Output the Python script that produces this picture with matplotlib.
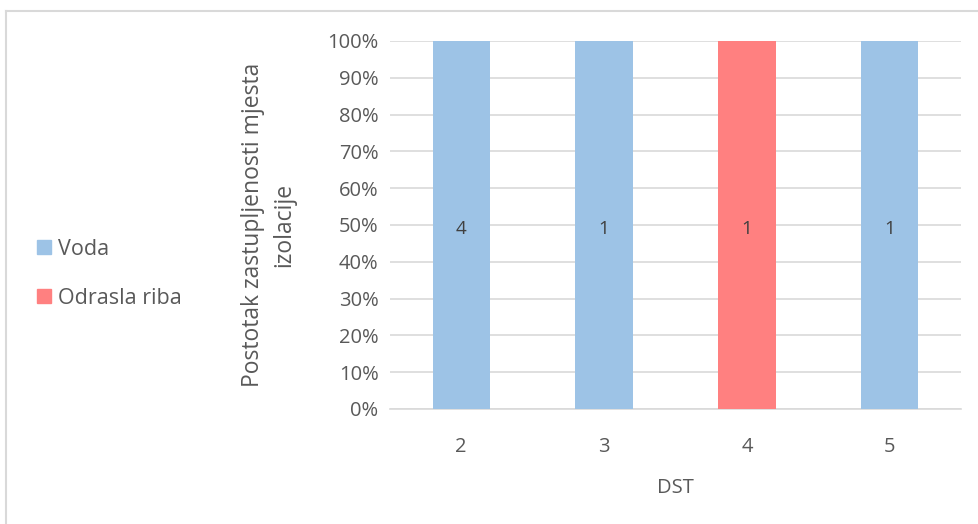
import matplotlib.pyplot as plt
import numpy as np
from matplotlib.lines import Line2D
from matplotlib.patches import Patch

# Data: counts per DST category
categories = ["2", "3", "4", "5"]
voda = [4, 1, 0, 1]
odrasla_riba = [0, 0, 1, 0]
series_names = ["Voda", "Odrasla riba"]

color_voda = "#9dc3e6"
color_riba = "#ff8080"
text_color = "#595959"

plt.rcParams['font.family'] = ['Open Sans', 'DejaVu Sans']

fig = plt.figure(figsize=(9.79, 5.24), dpi=100)
ax = fig.add_axes([0.398, 0.2195, 0.584, 0.7023])

voda_arr = np.array(voda, dtype=float)
riba_arr = np.array(odrasla_riba, dtype=float)
totals = voda_arr + riba_arr
voda_pct = voda_arr / totals
riba_pct = riba_arr / totals

x = np.arange(len(categories))
width = 0.4

bars1 = ax.bar(x, voda_pct, width, color=color_voda, zorder=3)
bars2 = ax.bar(x, riba_pct, width, bottom=voda_pct, color=color_riba, zorder=3)

# Data labels with the raw counts
for bars, counts, bottoms in [(bars1, voda, np.zeros(len(x))), (bars2, odrasla_riba, voda_pct)]:
    for rect, c, b in zip(bars, counts, bottoms):
        if c == 0:
            continue
        ax.text(rect.get_x() + rect.get_width() / 2, b + rect.get_height() / 2 - 0.01, str(c),
                ha='center', va='center', fontsize=13.5, color="#404040", zorder=4)

ax.set_xlim(-0.5, len(categories) - 0.5)
ax.set_ylim(0, 1)
ax.set_yticks(np.arange(0, 1.01, 0.1))
ax.set_yticklabels([f"{int(round(v * 100))}%" for v in np.arange(0, 1.01, 0.1)])
ax.set_xticks(x)
ax.set_xticklabels(categories)
ax.tick_params(axis='both', length=0, labelsize=14.5, colors=text_color)
ax.tick_params(axis='x', pad=20)
ax.tick_params(axis='y', pad=8)

ax.grid(True, axis='y', color="#d9d9d9", linewidth=1.2, zorder=0)
for side in ['top', 'right', 'left']:
    ax.spines[side].set_visible(False)
ax.spines['bottom'].set_color("#d9d9d9")
ax.spines['bottom'].set_linewidth(1.2)

ax.set_xlabel("DST", fontsize=14.5, color=text_color, labelpad=15)
ax.set_ylabel("Postotak zastupljenosti mjesta\nizolacije", fontsize=16.5, color=text_color,
              labelpad=22, linespacing=1.45)

handles = [Patch(color=color_voda), Patch(color=color_riba)]
fig.legend(handles, series_names, loc='center left', bbox_to_anchor=(0.027, 0.478),
           frameon=False, fontsize=15.5, labelcolor=text_color, handlelength=0.65,
           handleheight=0.65, handletextpad=0.3, labelspacing=1.3, borderpad=0)

# Outer chart frame (only left and top edges are visible in the crop)
fig.add_artist(Line2D([0.0065, 0.0065], [0, 0.979], transform=fig.transFigure,
                      color="#d9d9d9", linewidth=1.5))
fig.add_artist(Line2D([0.0065, 1.0], [0.979, 0.979], transform=fig.transFigure,
                      color="#d9d9d9", linewidth=1.5))

fig.savefig("out.png", dpi=100)
